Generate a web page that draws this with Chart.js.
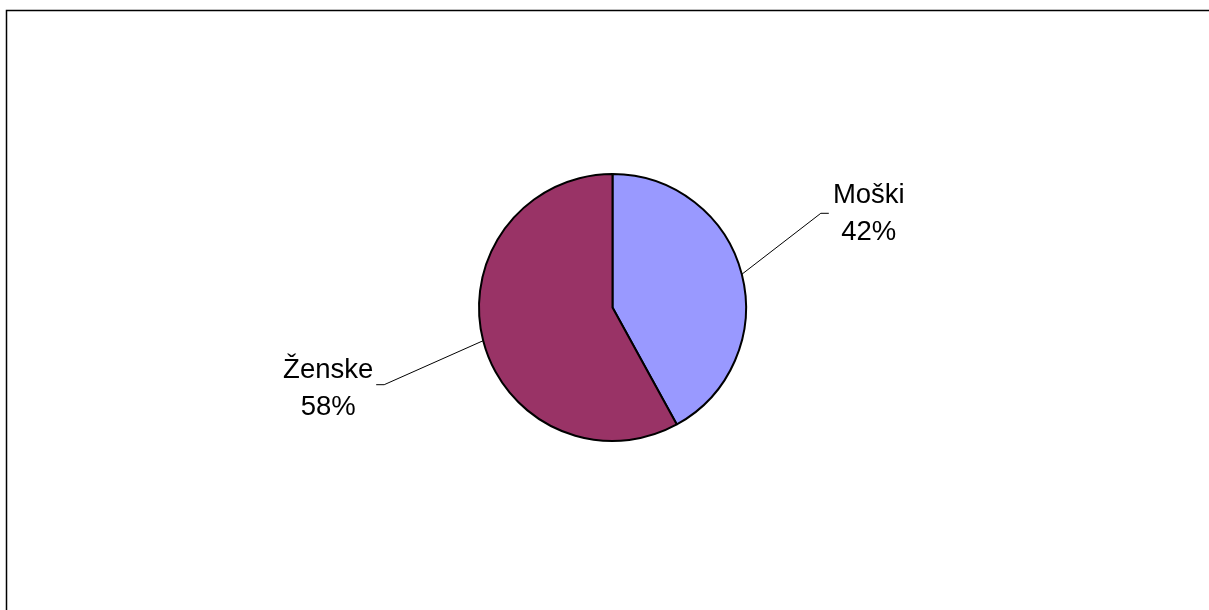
<!DOCTYPE html>
<html>
<head>
<meta charset="utf-8">
<script src="https://cdn.jsdelivr.net/npm/chart.js@4/dist/chart.umd.min.js"></script>
<style>
  html, body { margin: 0; padding: 0; background: #fff; }
  #wrap { width: 1209px; height: 610px; position: relative; }
</style>
</head>
<body>
<div id="wrap"><canvas id="chart" width="1209" height="610"></canvas></div>
<script>
// podatki
const labels = ["Moški", "Ženske"];
const values = [42, 58];
const colors = ["#9999FF", "#993366"];

// odmik oznake od roba pite (leader line)
const leaderOffsets = [[79, -61], [-99, 44]];
const textOffsets = [[48, -10], [-56, -7]];

const frame = {
    id: 'frame',
    beforeDraw(chart) {
        const ctx = chart.ctx;
        ctx.save();
        ctx.strokeStyle = '#000';
        ctx.lineWidth = 1.5;
        ctx.beginPath();
        ctx.moveTo(6.5, 620);
        ctx.lineTo(6.5, 10.5);
        ctx.lineTo(1220, 10.5);
        ctx.stroke();
        ctx.restore();
    }
};

const pieLabels = {
    id: 'pieLabels',
    afterDraw(chart) {
        const ctx = chart.ctx;
        const meta = chart.getDatasetMeta(0);
        const total = values.reduce((a, b) => a + b, 0);
        ctx.save();
        ctx.font = '27.5px "Liberation Sans", Arial, sans-serif';
        ctx.fillStyle = '#000';
        ctx.strokeStyle = '#000';
        ctx.lineWidth = 1;
        ctx.textAlign = 'center';
        ctx.textBaseline = 'alphabetic';
        meta.data.forEach((arc, i) => {
            const mid = (arc.startAngle + arc.endAngle) / 2;
            const ex = arc.x + Math.cos(mid) * arc.outerRadius;
            const ey = arc.y + Math.sin(mid) * arc.outerRadius;
            const lx = ex + leaderOffsets[i][0];
            const ly = ey + leaderOffsets[i][1];
            const dir = leaderOffsets[i][0] > 0 ? 1 : -1;
            ctx.beginPath();
            ctx.moveTo(ex, ey);
            ctx.lineTo(lx, ly);
            ctx.lineTo(lx + dir * 8, ly);
            ctx.stroke();
            const tx = lx + textOffsets[i][0];
            const ty = ly + textOffsets[i][1];
            const pct = Math.round(values[i] / total * 100) + '%';
            ctx.fillText(labels[i], tx, ty);
            ctx.fillText(pct, tx, ty + 37);
        });
        ctx.restore();
    }
};

new Chart(document.getElementById('chart'), {
    type: 'pie',
    data: {
        labels: labels,
        datasets: [{
            data: values,
            backgroundColor: colors,
            borderColor: '#000',
            borderWidth: 2
        }]
    },
    options: {
        responsive: false,
        animation: false,
        layout: { padding: { top: 172, bottom: 167, left: 478, right: 462 } },
        plugins: {
            legend: { display: false },
            tooltip: { enabled: false }
        }
    },
    plugins: [frame, pieLabels]
});
</script>
</body>
</html>
